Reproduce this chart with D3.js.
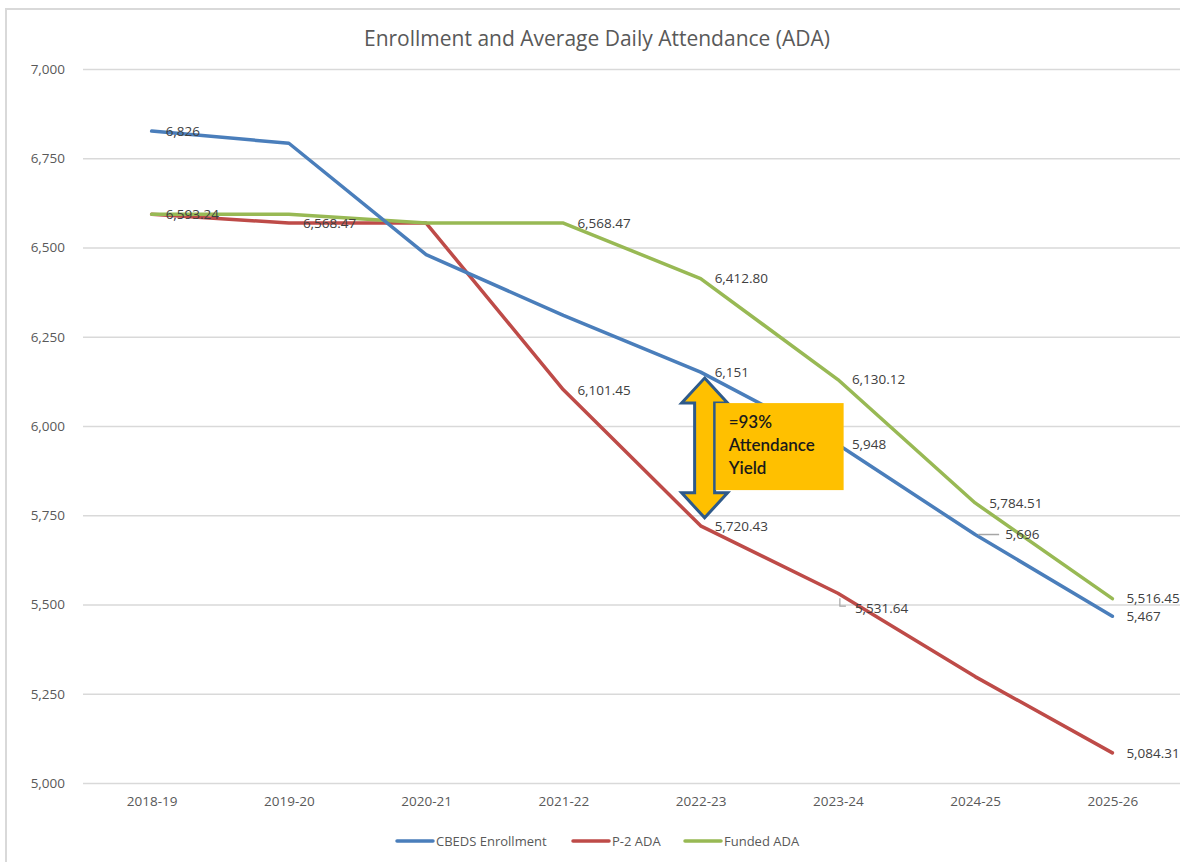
<!DOCTYPE html>
<html>
<head>
<meta charset="utf-8">
<script src="https://cdn.jsdelivr.net/npm/d3@7"></script>
<style>
  body { margin: 0; background: #fff; }
  text { font-family: "Open Sans", "Noto Sans", sans-serif; }
</style>
</head>
<body>
<div id="chart"></div>
<script>
// chart values
var years = ['2018-19', '2019-20', '2020-21', '2021-22', '2022-23', '2023-24', '2024-25', '2025-26'];
var enrollment = [6826, 6792, 6480, 6310, 6151, 5948, 5696, 5467];
var p2ada = [6593.24, 6568.47, 6568.47, 6101.45, 5720.43, 5531.64, 5298, 5084.31];
var fundedAda = [6593.24, 6593.24, 6568.47, 6568.47, 6412.80, 6130.12, 5784.51, 5516.45];
var yTicks = [5000, 5250, 5500, 5750, 6000, 6250, 6500, 6750, 7000];
var seriesNames = ['CBEDS Enrollment', 'P-2 ADA', 'Funded ADA'];
// which points carry a data label (index into years)
var enrollmentLabeled = [0, 4, 5, 6, 7];
var p2Labeled = [1, 3, 4, 5, 7];
var fundedLabeled = [0, 3, 4, 5, 6, 7];
var noteLines = ['=93%', 'Attendance', 'Yield'];

var width = 1180, height = 862;
var margin = { top: 69, right: -1, bottom: 79, left: 83 };
var color = ['#4a7ebb', '#be4b48', '#98b954'];

var svg = d3.select('#chart').append('svg')
  .attr('width', width).attr('height', height);

// outer chart frame (cropped on the right / bottom like the source)
svg.append('rect')
  .attr('x', 6).attr('y', 9)
  .attr('width', 1300).attr('height', 1000)
  .attr('fill', 'none').attr('stroke', '#d9d9d9').attr('stroke-width', 2);

var x = d3.scalePoint().domain(years)
  .range([margin.left, width - margin.right]).padding(0.5);
var y = d3.scaleLinear().domain([5000, 7000])
  .range([height - margin.bottom, margin.top]);

svg.append('text')
  .attr('x', 597).attr('y', 46)
  .attr('text-anchor', 'middle')
  .attr('font-size', 21).attr('fill', '#595959')
  .text('Enrollment and Average Daily Attendance (ADA)');

// gridlines + y labels
var yAxis = svg.append('g')
  .attr('transform', 'translate(' + margin.left + ',0)')
  .call(d3.axisLeft(y).tickValues(yTicks).tickFormat(d3.format(','))
    .tickSize(-(width - margin.left - margin.right)).tickPadding(18));
yAxis.select('.domain').remove();
yAxis.selectAll('.tick line').attr('stroke', '#d9d9d9').attr('stroke-width', 1.5);
yAxis.selectAll('.tick text').attr('fill', '#595959').attr('font-size', 13.5);

var xAxis = svg.append('g')
  .attr('transform', 'translate(0,' + (height - margin.bottom) + ')')
  .call(d3.axisBottom(x).tickSize(0).tickPadding(13));
xAxis.select('.domain').remove();
xAxis.selectAll('.tick text').attr('fill', '#595959').attr('font-size', 13.5);

var series = [
  { name: seriesNames[0], values: enrollment, labeled: enrollmentLabeled, fmt: d3.format(',') },
  { name: seriesNames[1], values: p2ada, labeled: p2Labeled, fmt: d3.format(',.2f') },
  { name: seriesNames[2], values: fundedAda, labeled: fundedLabeled, fmt: d3.format(',.2f') }
];

var line = d3.line()
  .x(function(d, i) { return x(years[i]); })
  .y(function(d) { return y(d); });

// draw order: red, green, blue on top
[1, 2, 0].forEach(function(k) {
  svg.append('path')
    .datum(series[k].values)
    .attr('d', line)
    .attr('fill', 'none')
    .attr('stroke', color[k])
    .attr('stroke-width', 3.5)
    .attr('stroke-linejoin', 'round')
    .attr('stroke-linecap', 'round');
});

// a couple of labels were nudged in the source, with leader lines
var nudge = { '0-6': [30, 0], '1-5': [17, 15] };

series.forEach(function(s, k) {
  s.labeled.forEach(function(i) {
    var px = x(years[i]), py = y(s.values[i]);
    var off = nudge[k + '-' + i] || [14, 0];
    svg.append('text')
      .attr('x', px + off[0]).attr('y', py + off[1])
      .attr('dy', '0.35em')
      .attr('font-size', 13.5).attr('fill', '#404040')
      .text(s.fmt(s.values[i]));
  });
});

// leader lines
var lp = [x(years[6]), y(enrollment[6])];
svg.append('line')
  .attr('x1', lp[0] + 3).attr('y1', lp[1]).attr('x2', lp[0] + 24).attr('y2', lp[1])
  .attr('stroke', '#a6a6a6').attr('stroke-width', 1.5);
var lq = [x(years[5]), y(p2ada[5])];
svg.append('path')
  .attr('d', 'M' + (lq[0] + 2) + ',' + (lq[1] + 5) + 'v8h6')
  .attr('fill', 'none').attr('stroke', '#a6a6a6').attr('stroke-width', 1.2);

// double arrow between enrollment and P-2 ADA at 2022-23
var ax = x(years[4]) + 4, aTop = y(enrollment[4]) + 6, aBot = y(p2ada[4]) - 8;
var hw = 23, sw = 10, hh = 25;
var arrow = [
  [ax, aTop], [ax + hw, aTop + hh], [ax + sw, aTop + hh], [ax + sw, aBot - hh],
  [ax + hw, aBot - hh], [ax, aBot], [ax - hw, aBot - hh], [ax - sw, aBot - hh],
  [ax - sw, aTop + hh], [ax - hw, aTop + hh]
];
svg.append('path')
  .attr('d', 'M' + arrow.join('L') + 'Z')
  .attr('fill', '#ffc000').attr('stroke', '#2e5a8a').attr('stroke-width', 3)
  .attr('stroke-linejoin', 'miter');

// annotation box
var bx = ax + sw + 1, by = aTop + hh;
svg.append('rect')
  .attr('x', bx).attr('y', by).attr('width', 128).attr('height', 87)
  .attr('fill', '#ffc000');
noteLines.forEach(function(t, i) {
  svg.append('text')
    .attr('x', bx + 13).attr('y', by + 19 + i * 23)
    .attr('dy', '0.35em')
    .style('font-family', 'Lato, sans-serif')
    .attr('font-size', 17).attr('font-weight', 600).attr('fill', '#1a1a1a')
    .text(t);
});

// legend
var legendX = [397, 573, 685];
var legend = svg.append('g').attr('transform', 'translate(0,841)');
seriesNames.forEach(function(n, k) {
  legend.append('line')
    .attr('x1', legendX[k]).attr('x2', legendX[k] + 36)
    .attr('stroke', color[k]).attr('stroke-width', 3.5).attr('stroke-linecap', 'round');
  legend.append('text')
    .attr('x', legendX[k] + 39).attr('dy', '0.35em')
    .attr('font-size', 13).attr('fill', '#595959')
    .text(n);
});
</script>
</body>
</html>
